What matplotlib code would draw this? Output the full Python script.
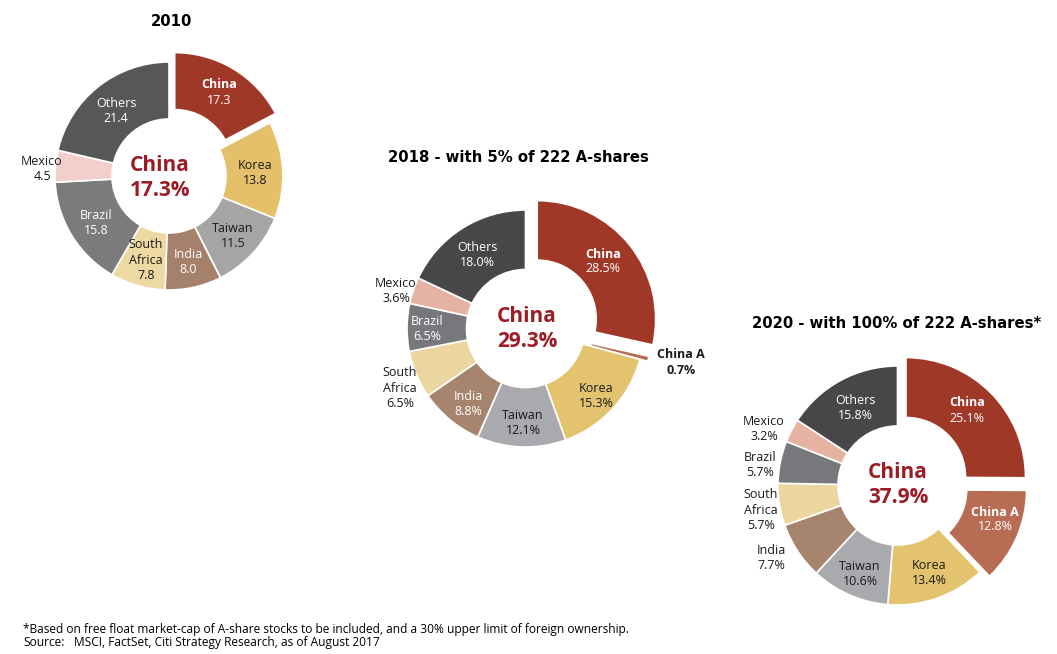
import matplotlib
matplotlib.use('Agg')
from matplotlib import pyplot as plt

H = 654

# data
names_2010 = ['China', 'Korea', 'Taiwan', 'India', 'South\nAfrica', 'Brazil', 'Mexico', 'Others']
values_2010 = [17.3, 13.8, 11.5, 8.0, 7.8, 15.8, 4.5, 21.4]
names_2018 = ['China', 'China A', 'Korea', 'Taiwan', 'India', 'South\nAfrica', 'Brazil', 'Mexico', 'Others']
values_2018 = [28.5, 0.7, 15.3, 12.1, 8.8, 6.5, 6.5, 3.6, 18.0]
names_2020 = ['China', 'China A', 'Korea', 'Taiwan', 'India', 'South\nAfrica', 'Brazil', 'Mexico', 'Others']
values_2020 = [25.1, 12.8, 13.4, 10.6, 7.7, 5.7, 5.7, 3.2, 15.8]
totals = [17.3, 29.3, 37.9]

# styles
colors_2010 = ['#a03828', '#e4c06a', '#a5a5a5', '#a5806b', '#eed9a2', '#7b7b7b', '#f2cfcb', '#575757']
colors_new = ['#a03828', '#b86c54', '#e4c36e', '#a9aaae', '#a6846e', '#ebd69f', '#77787b', '#e6b3a3', '#474749']


def donut(ax, names, values, colors, cx, cy, r, inner, explode, label_xy, white, suffix, bold):
    # explode is in the same units as the radius here (pixels)
    ax.pie(values, colors=colors, startangle=90, counterclock=False, radius=r,
           center=(cx, H - cy), explode=explode,
           wedgeprops=dict(width=r - inner, edgecolor='white', linewidth=1.2))
    for i, name in enumerate(names):
        x, y = label_xy[i]
        c = 'white' if white[i] else '#1a1a1a'
        if bold[i]:
            ax.text(x, H - y + 8, name, ha='center', va='center', fontsize=9, color=c, fontweight='bold')
            ax.text(x, H - y - 7, f'{values[i]:.1f}' + suffix, ha='center', va='center', fontsize=9, color=c,
                    fontweight='bold' if not white[i] else 'normal')
        else:
            ax.text(x, H - y - 1, name + '\n' + f'{values[i]:.1f}' + suffix, ha='center', va='center',
                    fontsize=9, color=c, linespacing=1.22)


plt.rcParams['font.family'] = ['Open Sans', 'DejaVu Sans']
fig = plt.figure(figsize=(10.57, 6.54), dpi=100)
ax = fig.add_axes([0, 0, 1, 1])

donut(ax, names_2010, values_2010, colors_2010, 169, 176, 114, 57,
      [11, 0, 0, 0, 0, 0, 0, 0],
      [(219, 93), (255, 172), (233, 235), (188, 261), (146, 259), (96, 222), (42, 168), (116, 110)],
      [1, 0, 0, 1, 0, 1, 0, 1], '', [1, 0, 0, 0, 0, 0, 0, 0])
donut(ax, names_2018, values_2018, colors_new, 525.5, 328.5, 118.5, 59,
      [15, 8, 0, 0, 0, 0, 0, 0, 0],
      [(603, 262), (681, 363), (596, 395), (523, 422), (468, 403), (400, 387), (427, 328), (396, 290), (477, 254)],
      [1, 0, 0, 0, 1, 0, 1, 0, 1], '%', [1, 1, 0, 0, 0, 0, 0, 0, 0])
donut(ax, names_2020, values_2020, colors_new, 897.5, 485.5, 119.5, 59.5,
      [12, 10.5, 0, 0, 0, 0, 0, 0, 0],
      [(967, 411), (995, 520), (929, 572), (860, 573), (771, 557), (761, 509), (760, 464), (764, 428), (855, 407)],
      [1, 1, 0, 0, 0, 0, 0, 0, 1], '%', [1, 1, 0, 0, 0, 0, 0, 0, 0])

# centre labels
for (x, y), t in zip([(160, 178), (527, 329), (898, 485)], totals):
    ax.text(x, H - y, 'China\n' + f'{t:.1f}%', ha='center', va='center', fontsize=15,
            color='#9c1c26', fontweight='bold', linespacing=1.2)

# titles
title_font = dict(family='DejaVu Sans', fontweight='bold', fontsize=10.7, ha='center', va='center', color='k')
ax.text(172, H - 21, '2010', **title_font)
ax.text(518, H - 158, '2018 - with 5% of 222 A-shares', **title_font)
ax.text(896.5, H - 323, '2020 - with 100% of 222 A-shares*', **title_font)

# footnote
ax.text(23, H - 633, '*Based on free float market-cap of A-share stocks to be included, and a 30% upper limit of foreign ownership.',
        fontsize=8.6, ha='left', va='baseline', color='k')
ax.text(23, H - 646, 'Source:', fontsize=8.6, ha='left', va='baseline', color='k')
ax.text(74, H - 646, 'MSCI, FactSet, Citi Strategy Research, as of August 2017',
        fontsize=8.6, ha='left', va='baseline', color='k')

ax.set_xlim(0, 1057)
ax.set_ylim(0, H)
ax.set_aspect('auto')
ax.axis('off')

fig.savefig('out.png', dpi=100, facecolor='white')
